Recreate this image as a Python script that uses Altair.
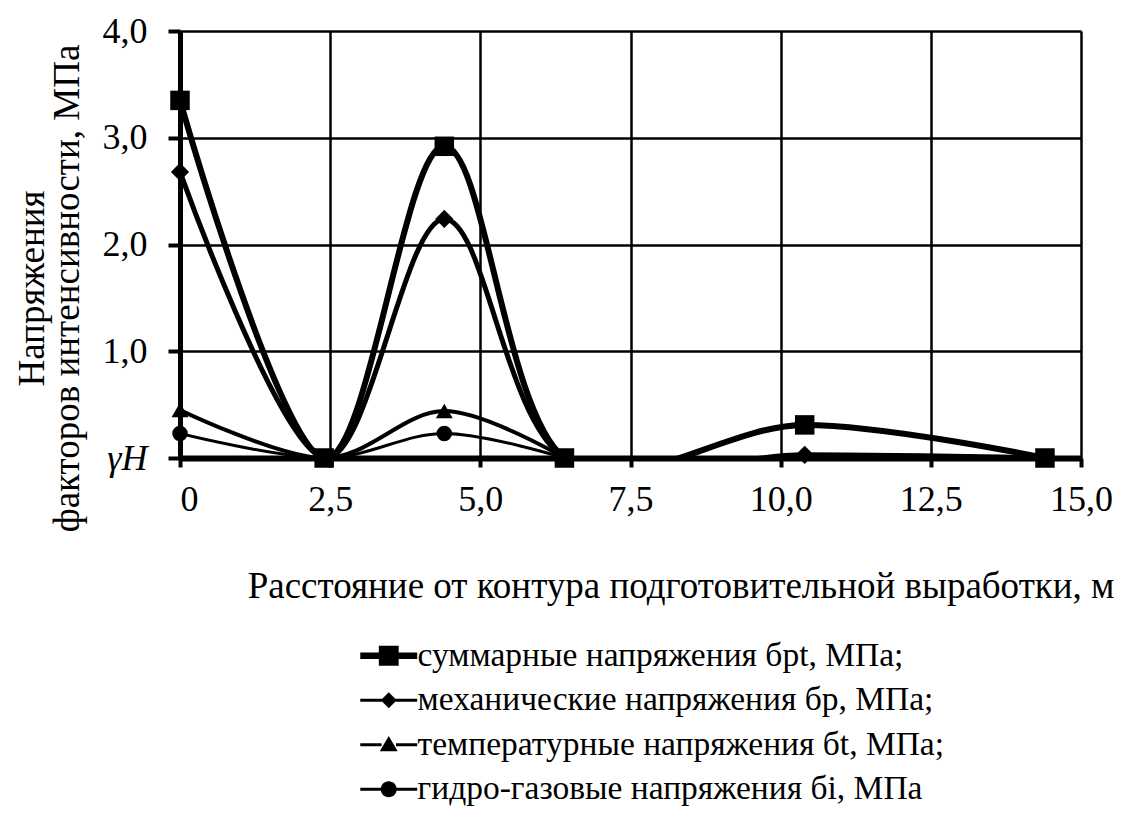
import altair as alt
import pandas as pd

series_names = [
    "суммарные напряжения бpt, МПа;",
    "механические напряжения бp, МПа;",
    "температурные напряжения бt, МПа;",
    "гидро-газовые напряжения бi, МПа",
]

x_full = [0.0, 2.4, 4.4, 6.4, 10.4, 14.4]
x_short = [0.0, 2.4, 4.4, 6.4]
sum_vals = [3.35, 0.0, 2.92, 0.0, 0.31, 0.0]
mech_vals = [2.68, 0.0, 2.24, 0.0, 0.03, 0.0]
temp_vals = [0.45, 0.0, 0.44, 0.0]
hydro_vals = [0.23, 0.0, 0.23, 0.0]

x_ticks = [0, 2.5, 5, 7.5, 10, 12.5, 15]
y_ticks = [0, 1, 2, 3, 4]

rows = []
for name, xs, ys in [
    (series_names[0], x_full, sum_vals),
    (series_names[1], x_full, mech_vals),
    (series_names[2], x_short, temp_vals),
    (series_names[3], x_short, hydro_vals),
]:
    for xv, yv in zip(xs, ys):
        rows.append({"series": name, "x": xv, "y": yv})
df = pd.DataFrame(rows)

FONT = "Liberation Serif"
FS_TICK = 36
FS_TITLE = 37
FS_LEGEND = 33.5

# legend symbols: line + marker (units of sqrt(size)/2 px)
legend_paths = [
    "M-1.78,-0.2H-0.5V0.2H-1.78Z M0.5,-0.2H1.78V0.2H0.5Z M-0.62,-0.62H0.62V0.62H-0.62Z",
    "M-1.78,-0.1H-0.4V0.1H-1.78Z M0.4,-0.1H1.78V0.1H0.4Z M-0.5,0L0,-0.5L0.5,0L0,0.5Z",
    "M-1.78,-0.1H-0.45V0.1H-1.78Z M0.45,-0.1H1.78V0.1H0.45Z M-0.56,0.4L0,-0.55L0.56,0.4Z",
    "M-1.78,-0.1H-0.4V0.1H-1.78Z M0.4,-0.1H1.78V0.1H0.4Z M-0.5,0A0.5,0.5 0 1 1 0.5,0A0.5,0.5 0 1 1 -0.5,0Z",
]

x_enc = alt.X(
    "x:Q",
    scale=alt.Scale(domain=[0, 15], nice=False, zero=False),
    axis=alt.Axis(
        values=x_ticks,
        labelExpr="datum.value == 0 ? '0' : replace(format(datum.value, '.1f'), '.', ',')",
        labelFontSize=FS_TICK,
        labelPadding=15,
        labelFlush=False,
        labelOverlap=False,
        labelAlign={"condition": {"test": "datum.value == 0", "value": "left"}, "value": "center"},
        tickSize=9,
        tickWidth=4,
        domainWidth=6,
        gridWidth=2.5,
        title="Расстояние от контура подготовительной выработки, м",
        titleFontSize=FS_TITLE,
        titleX=934,
        titleY=139,
        titleAlign="right",
        titleBaseline="alphabetic",
    ),
)
y_enc = alt.Y(
    "y:Q",
    scale=alt.Scale(domain=[0, 4], nice=False),
    axis=alt.Axis(
        values=y_ticks,
        labelExpr="datum.value == 0 ? 'γH' : replace(format(datum.value, '.1f'), '.', ',')",
        labelFontStyle={"condition": {"test": "datum.value == 0", "value": "italic"}, "value": "normal"},
        labelFontSize=FS_TICK,
        labelPadding=21,
        labelOverlap=False,
        tickSize=12,
        tickWidth=4,
        domainWidth=5,
        gridWidth=2.5,
        title=["Напряжения", "факторов интенсивности, МПа"],
        titleFontSize=FS_TITLE,
        titleX=-148,
        titleY=257,
        titleAngle=270,
        titleAlign="center",
        titleBaseline="middle",
        titleLineHeight=35,
    ),
)

base = alt.Chart(df)

lines = base.mark_line(interpolate="cardinal", tension=0, clip=True, color="black").encode(
    x=x_enc,
    y=y_enc,
    detail="series:N",
    strokeWidth=alt.StrokeWidth(
        "series:N", scale=alt.Scale(domain=series_names, range=[6, 3, 3, 3]), legend=None
    ),
)

points = base.mark_point(filled=True, color="black", opacity=1, strokeWidth=0).encode(
    x="x:Q",
    y="y:Q",
    shape=alt.Shape(
        "series:N",
        scale=alt.Scale(domain=series_names, range=["square", "diamond", "triangle-up", "circle"]),
        legend=None,
    ),
    size=alt.Size(
        "series:N", scale=alt.Scale(domain=series_names, range=[380, 240, 260, 230]), legend=None
    ),
)

legend_layer = base.transform_filter("datum.x < -100").mark_point(
    filled=True, color="black", opacity=1
).encode(
    x="x:Q",
    y="y:Q",
    shape=alt.Shape(
        "series:N",
        scale=alt.Scale(domain=series_names, range=legend_paths),
        legend=alt.Legend(
            orient="none",
            legendX=192,
            legendY=608,
            title=None,
            symbolSize=1024,
            symbolFillColor="black",
            symbolStrokeColor="black",
            symbolStrokeWidth=0,
            symbolOffset=0,
            labelFont=FONT,
            labelFontSize=FS_LEGEND,
            labelColor="black",
            labelLimit=900,
            labelOffset=12,
            rowPadding=9.5,
            padding=0,
        ),
    ),
)

chart = (
    alt.layer(lines, points, legend_layer)
    .resolve_scale(shape="independent", size="independent")
    .properties(
        width=901,
        height=427,
        autosize=alt.AutoSizeParams(type="none"),
        padding={"left": 172, "top": 23, "right": 34, "bottom": 349},
        background="white",
    )
    .configure_view(stroke=None)
    .configure_axis(
        labelFont=FONT,
        titleFont=FONT,
        labelColor="black",
        titleColor="black",
        domainColor="black",
        tickColor="black",
        gridColor="black",
        gridOpacity=1,
        titleFontWeight="normal",
    )
)

chart.save("out.html", embed_options={"renderer": "svg", "actions": False})
